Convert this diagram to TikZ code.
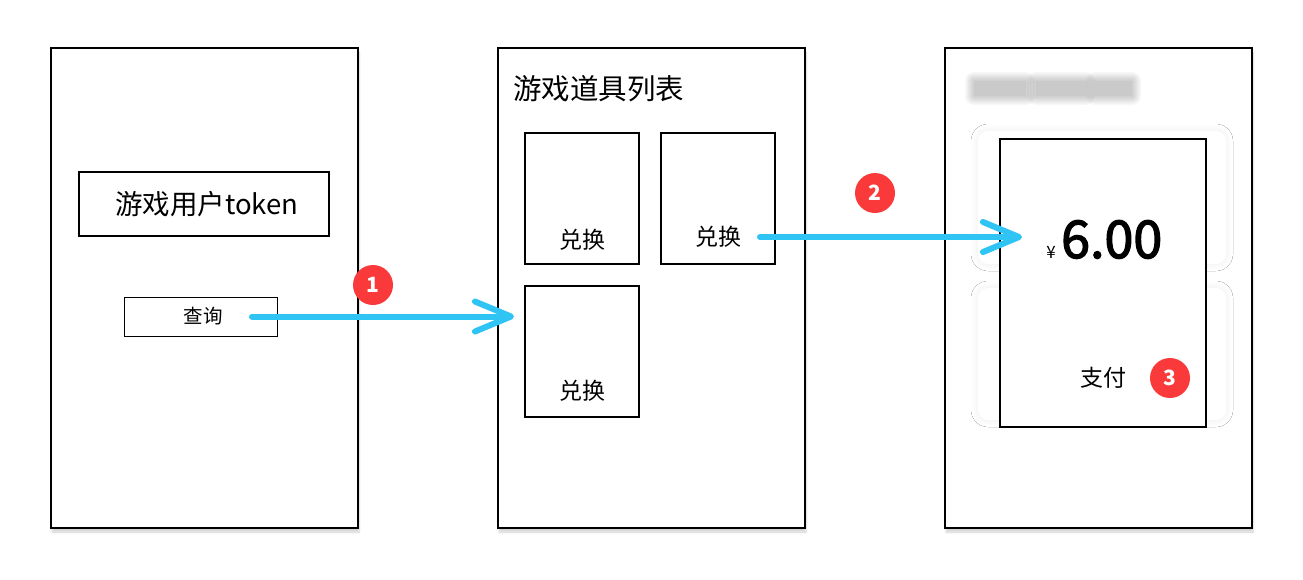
\documentclass[tikz,border=0pt]{standalone}
\usepackage{fontspec}
\setmainfont{Noto Sans CJK SC}
\newfontfamily\pricefont[FakeBold=2.5]{Noto Sans CJK SC}
\usetikzlibrary{positioning, calc, arrows.meta, shadows.blur}
\definecolor{flowblue}{RGB}{48,196,244}
\definecolor{badgered}{RGB}{250,58,58}

\begin{document}
\begin{tikzpicture}[x=1pt, y=-1pt,
    screen/.style={rectangle, draw, line width=1.6pt, fill=white, minimum width=307pt, minimum height=480pt, outer sep=0pt, inner sep=0pt, blur shadow={shadow blur steps=8, shadow xshift=1pt, shadow yshift=-4pt, shadow opacity=18}},
    field/.style={rectangle, draw, line width=1.5pt, minimum width=250pt, minimum height=64pt, outer sep=0pt, font=\fontsize{27.5}{27.5}\selectfont},
    button/.style={rectangle, draw, line width=0.9pt, minimum width=153pt, minimum height=39pt, outer sep=0pt, font=\fontsize{19.5}{19.5}\selectfont},
    item/.style={rectangle, draw, line width=1.2pt, minimum width=114pt, minimum height=131pt, outer sep=0pt},
    item_label/.style={font=\fontsize{23}{23}\selectfont, inner sep=0pt},
    badge/.style={circle, fill=badgered, text=white, minimum size=40pt, inner sep=0pt, font=\bfseries\fontsize{21}{21}\selectfont},
    flow/.style={-{Straight Barb[length=36pt, width=30pt, round]}, line width=6pt, line cap=round, flowblue},
    ghost/.style={fill=black, fill opacity=0.03},
    ghost_card/.style={blur shadow={shadow xshift=0pt, shadow yshift=0pt, shadow opacity=7, shadow blur radius=7pt, shadow blur steps=10}, fill=white, rounded corners=10pt},
    node distance=140pt
]
    \useasboundingbox (0,0) rectangle (1303,579);

    % screens
    \node[screen] (login) at (204.5,288) {};
    \node[screen, right=of login] (shop) {};
    \node[screen, right=of shop] (pay) {};

    % first screen
    \node[field] (token) at (204,204) {\hspace{6pt}游戏用户token};
    \node[button] (query) at (200.5,316.5) {\hspace{5pt}查询};

    % second screen
    \node[anchor=west, font=\fontsize{28.5}{28.5}\selectfont, inner sep=0pt] (title) at (513,89) {游戏道具列表};
    \node[item] (it1) at (582,198.5) {};
    \node[item, right=22pt of it1] (it2) {};
    \node[item, below=22pt of it1] (it3) {};
    \node[item_label] (ex1) at ([yshift=24pt]it1.south) {兑换};
    \node[item_label] (ex2) at ([yshift=27pt]it2.south) {兑换};
    \node[item_label] (ex3) at ([yshift=26pt]it3.south) {兑换};

    % third screen, blurred page behind the dialog
    \foreach \a/\b in {974/1026, 1036/1086, 1095/1132}
        \foreach \g in {0,1.5,...,9}
            \fill[ghost, rounded corners=\g pt] (\a-\g,81-\g) rectangle (\b+\g,96+\g);
    \path[ghost_card] (978,131) rectangle (1226,264);
    \path[ghost_card] (978,288) rectangle (1226,420);
    \node[rectangle, draw, line width=1.6pt, fill=white, minimum width=206pt, minimum height=288pt, outer sep=0pt] (dialog) at (1103,283) {};
    \node[anchor=base west, inner sep=0pt, font=\pricefont\fontsize{52}{52}\selectfont] (price) at (1061,258) {6.00};
    \node[anchor=base east, inner sep=0pt, font=\fontsize{17}{17}\selectfont] (yen) at ([xshift=-5pt]price.base west) {¥};
    \node[item_label] (paybtn) at (1103,378) {支付};

    % steps
    \node[badge] (s1) at (373,285) {1};
    \node[badge] (s2) at (875,193) {2};
    \node[badge] (s3) at (1170,378) {3};

    % arrows
    \coordinate (a1s) at ([xshift=-25pt]query.east);
    \coordinate (a1e) at ([xshift=16pt]query -| shop.west);
    \coordinate (a2s) at ([xshift=-15pt]it2.east |- ex2);
    \coordinate (a2e) at ([xshift=22pt]a2s -| dialog.west);
    \draw[flow] (a1s) -- (a1e);
    \draw[flow] (a2s) -- (a2e);
\end{tikzpicture}
\end{document}
